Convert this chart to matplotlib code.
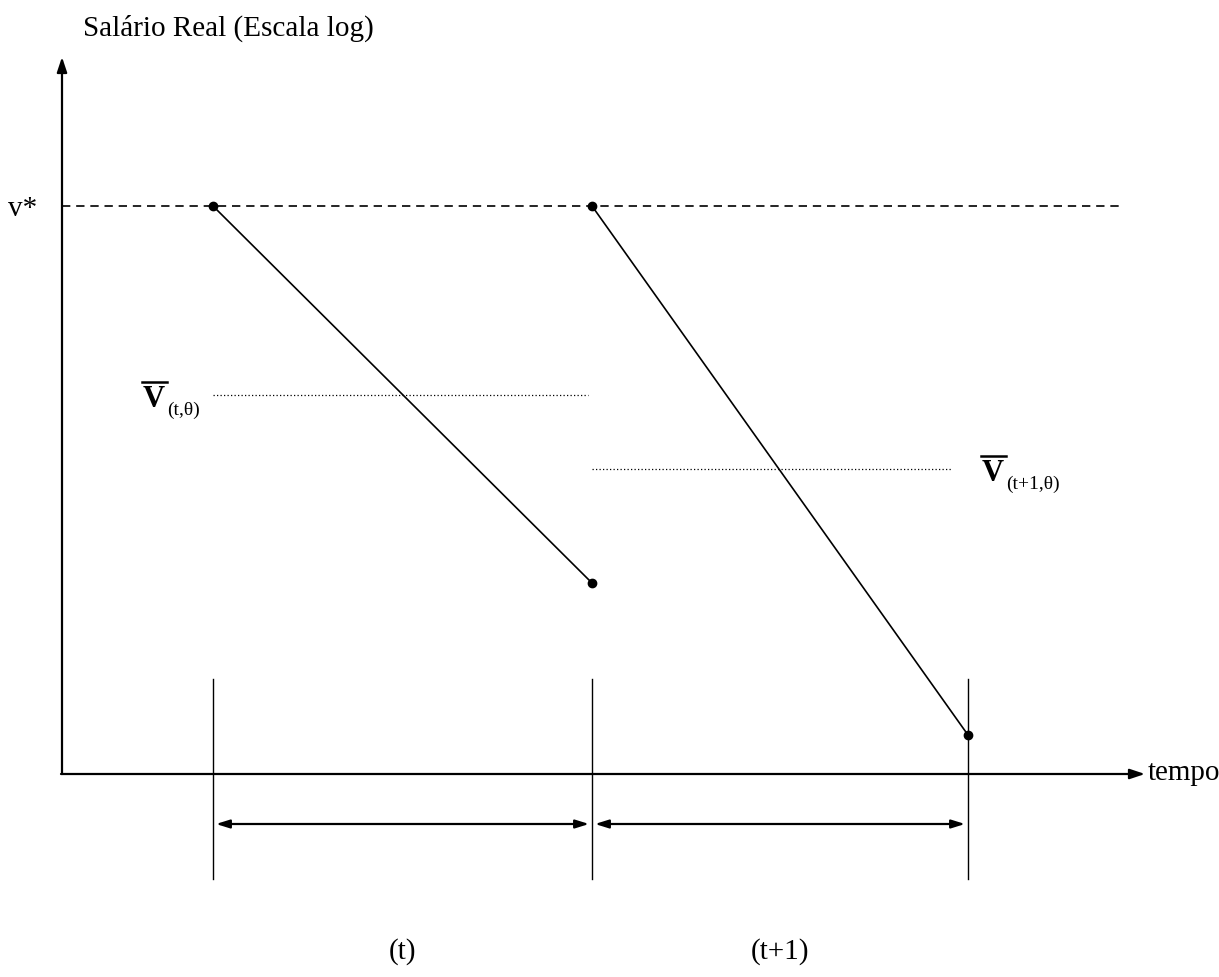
import numpy as np
import matplotlib.pyplot as plt

plt.rcParams['font.family'] = ['Liberation Serif', 'DejaVu Serif']

# === DATA (schematic units, y grows upward) ===
period_bounds = [213, 592, 968]      # start of period t, start of t+1, end of t+1
v_star = 771                         # reservation wage v*
wage_end = [394, 242]                # wage at end of each period
wage_avg = [582, 508]                # average wage of each period
period_labels = ['(t)', '(t+1)']
avg_subs = ['(t,θ)', '(t+1,θ)']

# === AXES FRAME ===
x_origin, y_origin = 62, 203
x_end, y_top = 1145, 920

fig = plt.figure(figsize=(12.19, 9.78), dpi=100)
ax = fig.add_axes([0, 0, 1, 1])
ax.set_xlim(0, 1219)
ax.set_ylim(0, 978)
ax.axis('off')

head = dict(arrowstyle='-|>,head_length=0.9,head_width=0.3', color='black', lw=1.6,
            shrinkA=0, shrinkB=0)
ax.annotate('', xy=(x_origin, y_top), xytext=(x_origin, y_origin), arrowprops=head)
ax.annotate('', xy=(x_end, y_origin), xytext=(x_origin - 1, y_origin), arrowprops=head)

ax.text(83, 950, 'Salário Real (Escala log)', fontsize=21, va='center', ha='left')
ax.text(1148, y_origin + 2, 'tempo', fontsize=21, va='center', ha='left')
ax.text(8, v_star - 2, 'v*', fontsize=21, va='center', ha='left')

# v* dashed line
ax.plot([x_origin, 1122], [v_star, v_star], color='black', lw=1.2, ls=(0, (5, 3.5)))

# wage paths
for i in range(2):
    x0, x1 = period_bounds[i], period_bounds[i + 1]
    ax.plot([x0, x1], [v_star, wage_end[i]], color='black', lw=1.2,
            marker='o', markersize=6)

# average wage dotted lines
ax.plot([period_bounds[0], 588], [wage_avg[0], wage_avg[0]], color='black', lw=0.9, ls=(0, (1, 1.8)))
ax.plot([period_bounds[1], 952], [wage_avg[1], wage_avg[1]], color='black', lw=0.9, ls=(0, (1, 1.8)))

# V-bar labels
label_pos = [(143, wage_avg[0]), (982, wage_avg[1])]
for (lx, ly), sub in zip(label_pos, avg_subs):
    ax.text(lx, ly - 11, 'V', fontsize=22, fontweight='bold', va='baseline', ha='left')
    ax.plot([lx - 1, lx + 24], [ly + 13.5, ly + 13.5], color='black', lw=1.8)
    ax.text(lx + 24, ly - 19, sub, fontsize=14, va='baseline', ha='left')

# period markers
for xb in period_bounds:
    ax.plot([xb, xb], [98, 298], color='black', lw=1.0)

dbl = dict(arrowstyle='<|-|>,head_length=0.8,head_width=0.25', color='black', lw=1.6,
           shrinkA=0, shrinkB=0)
for i in range(2):
    x0, x1 = period_bounds[i], period_bounds[i + 1]
    ax.annotate('', xy=(x1 - 3, 153), xytext=(x0 + 3, 153), arrowprops=dbl)
    ax.text((x0 + x1) / 2, 26, period_labels[i], fontsize=21, va='center', ha='center')

fig.savefig('out.png', dpi=100)
